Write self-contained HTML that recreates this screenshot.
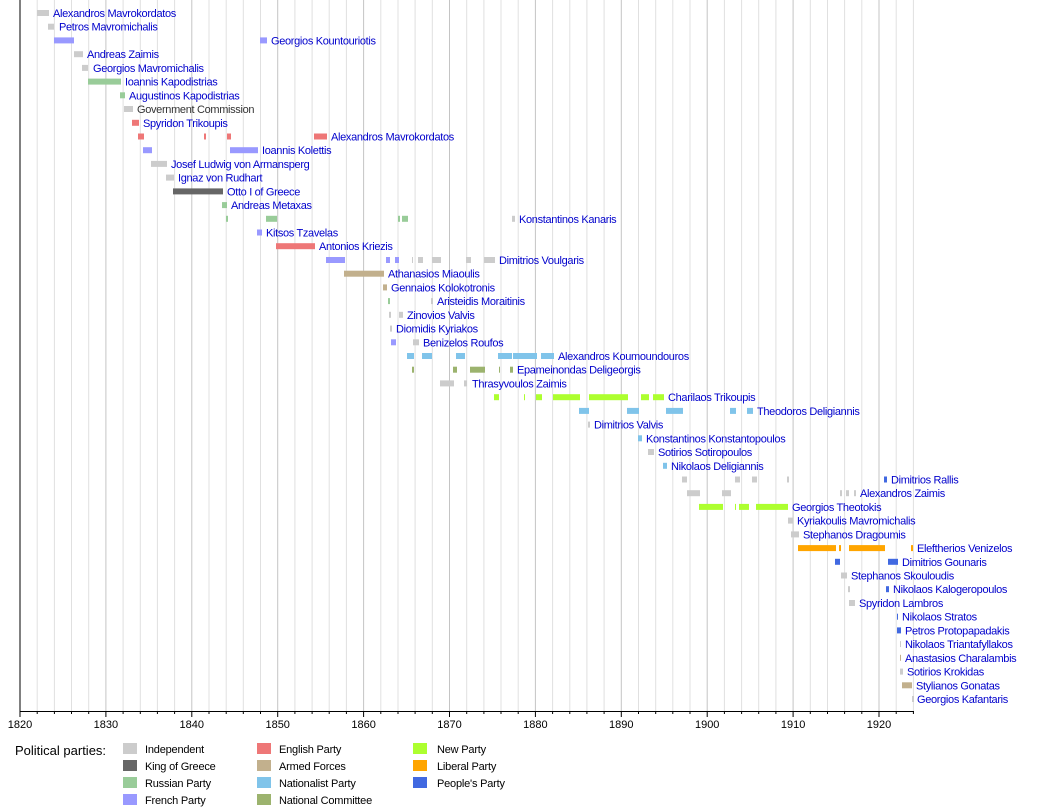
<!DOCTYPE html>
<html><head><meta charset="utf-8"><style>
body{margin:0;background:#fff;}
svg{display:block;font-family:"Liberation Sans",sans-serif;}
.l{font-size:11px;fill:#0000cc;letter-spacing:-0.33px;}
.g{stroke:#e0e0e0;stroke-width:1;}
.G{stroke:#c4c4c4;stroke-width:1;}
.lg{font-size:11px;fill:#000;letter-spacing:-0.2px;}
</style></head><body>
<svg width="1050" height="810" viewBox="0 0 1050 810">
<g>
<line class="g" x1="37.2" y1="0" x2="37.2" y2="711"/><line class="g" x1="54.4" y1="0" x2="54.4" y2="711"/><line class="g" x1="71.5" y1="0" x2="71.5" y2="711"/><line class="g" x1="88.7" y1="0" x2="88.7" y2="711"/><line class="G" x1="105.9" y1="0" x2="105.9" y2="711"/>
<line class="g" x1="123.1" y1="0" x2="123.1" y2="711"/><line class="g" x1="140.3" y1="0" x2="140.3" y2="711"/><line class="g" x1="157.4" y1="0" x2="157.4" y2="711"/><line class="g" x1="174.6" y1="0" x2="174.6" y2="711"/><line class="G" x1="191.8" y1="0" x2="191.8" y2="711"/>
<line class="g" x1="209" y1="0" x2="209" y2="711"/><line class="g" x1="226.2" y1="0" x2="226.2" y2="711"/><line class="g" x1="243.3" y1="0" x2="243.3" y2="711"/><line class="g" x1="260.5" y1="0" x2="260.5" y2="711"/><line class="G" x1="277.7" y1="0" x2="277.7" y2="711"/>
<line class="g" x1="294.9" y1="0" x2="294.9" y2="711"/><line class="g" x1="312.1" y1="0" x2="312.1" y2="711"/><line class="g" x1="329.2" y1="0" x2="329.2" y2="711"/><line class="g" x1="346.4" y1="0" x2="346.4" y2="711"/><line class="G" x1="363.6" y1="0" x2="363.6" y2="711"/>
<line class="g" x1="380.8" y1="0" x2="380.8" y2="711"/><line class="g" x1="398" y1="0" x2="398" y2="711"/><line class="g" x1="415.1" y1="0" x2="415.1" y2="711"/><line class="g" x1="432.3" y1="0" x2="432.3" y2="711"/><line class="G" x1="449.5" y1="0" x2="449.5" y2="711"/>
<line class="g" x1="466.7" y1="0" x2="466.7" y2="711"/><line class="g" x1="483.9" y1="0" x2="483.9" y2="711"/><line class="g" x1="501" y1="0" x2="501" y2="711"/><line class="g" x1="518.2" y1="0" x2="518.2" y2="711"/><line class="G" x1="535.4" y1="0" x2="535.4" y2="711"/>
<line class="g" x1="552.6" y1="0" x2="552.6" y2="711"/><line class="g" x1="569.8" y1="0" x2="569.8" y2="711"/><line class="g" x1="586.9" y1="0" x2="586.9" y2="711"/><line class="g" x1="604.1" y1="0" x2="604.1" y2="711"/><line class="G" x1="621.3" y1="0" x2="621.3" y2="711"/>
<line class="g" x1="638.5" y1="0" x2="638.5" y2="711"/><line class="g" x1="655.7" y1="0" x2="655.7" y2="711"/><line class="g" x1="672.8" y1="0" x2="672.8" y2="711"/><line class="g" x1="690" y1="0" x2="690" y2="711"/><line class="G" x1="707.2" y1="0" x2="707.2" y2="711"/>
<line class="g" x1="724.4" y1="0" x2="724.4" y2="711"/><line class="g" x1="741.6" y1="0" x2="741.6" y2="711"/><line class="g" x1="758.7" y1="0" x2="758.7" y2="711"/><line class="g" x1="775.9" y1="0" x2="775.9" y2="711"/><line class="G" x1="793.1" y1="0" x2="793.1" y2="711"/>
<line class="g" x1="810.3" y1="0" x2="810.3" y2="711"/><line class="g" x1="827.5" y1="0" x2="827.5" y2="711"/><line class="g" x1="844.6" y1="0" x2="844.6" y2="711"/><line class="g" x1="861.8" y1="0" x2="861.8" y2="711"/><line class="G" x1="879" y1="0" x2="879" y2="711"/>
<line class="g" x1="896.2" y1="0" x2="896.2" y2="711"/><line class="g" x1="913.4" y1="0" x2="913.4" y2="711"/>
</g>
<g>
<rect x="37" y="10" width="12" height="6" fill="#cccccc"/>
<rect x="48" y="23.7" width="6" height="6" fill="#cccccc"/>
<rect x="54" y="37.4" width="20" height="6" fill="#9999ff"/><rect x="260" y="37.4" width="7" height="6" fill="#9999ff"/>
<rect x="74" y="51.2" width="9" height="6" fill="#cccccc"/>
<rect x="82" y="64.9" width="6" height="6" fill="#cccccc"/>
<rect x="88" y="78.6" width="33" height="6" fill="#99cc99"/>
<rect x="120" y="92.3" width="5" height="6" fill="#99cc99"/>
<rect x="124" y="106" width="9" height="6" fill="#cccccc"/>
<rect x="132" y="119.8" width="7" height="6" fill="#ee7777"/>
<rect x="138" y="133.5" width="6" height="6" fill="#ee7777"/><rect x="204" y="133.5" width="2" height="6" fill="#ee7777"/><rect x="227" y="133.5" width="4" height="6" fill="#ee7777"/><rect x="314" y="133.5" width="13" height="6" fill="#ee7777"/>
<rect x="143" y="147.2" width="9" height="6" fill="#9999ff"/><rect x="230" y="147.2" width="28" height="6" fill="#9999ff"/>
<rect x="151" y="160.9" width="16" height="6" fill="#cccccc"/>
<rect x="166" y="174.6" width="8" height="6" fill="#cccccc"/>
<rect x="173" y="188.4" width="50" height="6" fill="#666666"/>
<rect x="222" y="202.1" width="5" height="6" fill="#99cc99"/>
<rect x="226" y="215.8" width="2" height="6" fill="#99cc99"/><rect x="266" y="215.8" width="11" height="6" fill="#99cc99"/><rect x="398" y="215.8" width="2" height="6" fill="#99cc99"/><rect x="402" y="215.8" width="6" height="6" fill="#99cc99"/><rect x="512" y="215.8" width="3" height="6" fill="#cccccc"/>
<rect x="257" y="229.5" width="5" height="6" fill="#9999ff"/>
<rect x="276" y="243.2" width="39" height="6" fill="#ee7777"/>
<rect x="326" y="257" width="19" height="6" fill="#9999ff"/><rect x="386" y="257" width="4" height="6" fill="#9999ff"/><rect x="395" y="257" width="4" height="6" fill="#9999ff"/><rect x="412" y="257" width="1" height="6" fill="#cccccc"/><rect x="418" y="257" width="5" height="6" fill="#cccccc"/><rect x="432" y="257" width="9" height="6" fill="#cccccc"/><rect x="466" y="257" width="5" height="6" fill="#cccccc"/><rect x="484" y="257" width="11" height="6" fill="#cccccc"/>
<rect x="344" y="270.7" width="40" height="6" fill="#c2b08d"/>
<rect x="383" y="284.4" width="4" height="6" fill="#c2b08d"/>
<rect x="388" y="298.1" width="2" height="6" fill="#99cc99"/><rect x="431" y="298.1" width="2" height="6" fill="#cccccc"/>
<rect x="389" y="311.8" width="2" height="6" fill="#cccccc"/><rect x="399" y="311.8" width="4" height="6" fill="#cccccc"/>
<rect x="390" y="325.6" width="2" height="6" fill="#cccccc"/>
<rect x="391" y="339.3" width="5" height="6" fill="#9999ff"/><rect x="413" y="339.3" width="6" height="6" fill="#cccccc"/>
<rect x="407" y="353" width="7" height="6" fill="#80c4ea"/><rect x="422" y="353" width="10" height="6" fill="#80c4ea"/><rect x="456" y="353" width="9" height="6" fill="#80c4ea"/><rect x="498" y="353" width="14" height="6" fill="#80c4ea"/><rect x="513" y="353" width="24" height="6" fill="#80c4ea"/><rect x="541" y="353" width="13" height="6" fill="#80c4ea"/>
<rect x="412" y="366.7" width="2" height="6" fill="#9cb36e"/><rect x="453" y="366.7" width="4" height="6" fill="#9cb36e"/><rect x="470" y="366.7" width="15" height="6" fill="#9cb36e"/><rect x="499" y="366.7" width="1" height="6" fill="#9cb36e"/><rect x="510" y="366.7" width="3" height="6" fill="#9cb36e"/>
<rect x="440" y="380.4" width="14" height="6" fill="#cccccc"/><rect x="464" y="380.4" width="3" height="6" fill="#cccccc"/>
<rect x="494" y="394.2" width="5" height="6" fill="#adff2f"/><rect x="524" y="394.2" width="1" height="6" fill="#adff2f"/><rect x="536" y="394.2" width="6" height="6" fill="#adff2f"/><rect x="553" y="394.2" width="27" height="6" fill="#adff2f"/><rect x="589" y="394.2" width="39" height="6" fill="#adff2f"/><rect x="641" y="394.2" width="8" height="6" fill="#adff2f"/><rect x="653" y="394.2" width="11" height="6" fill="#adff2f"/>
<rect x="579" y="407.9" width="10" height="6" fill="#80c4ea"/><rect x="627" y="407.9" width="12" height="6" fill="#80c4ea"/><rect x="666" y="407.9" width="17" height="6" fill="#80c4ea"/><rect x="730" y="407.9" width="6" height="6" fill="#80c4ea"/><rect x="747" y="407.9" width="6" height="6" fill="#80c4ea"/>
<rect x="588" y="421.6" width="2" height="6" fill="#cccccc"/>
<rect x="638" y="435.3" width="4" height="6" fill="#80c4ea"/>
<rect x="648" y="449" width="6" height="6" fill="#cccccc"/>
<rect x="663" y="462.8" width="4" height="6" fill="#80c4ea"/>
<rect x="682" y="476.5" width="5" height="6" fill="#cccccc"/><rect x="735" y="476.5" width="5" height="6" fill="#cccccc"/><rect x="752" y="476.5" width="5" height="6" fill="#cccccc"/><rect x="787" y="476.5" width="2" height="6" fill="#cccccc"/><rect x="884" y="476.5" width="3" height="6" fill="#4169e1"/>
<rect x="687" y="490.2" width="13" height="6" fill="#cccccc"/><rect x="722" y="490.2" width="9" height="6" fill="#cccccc"/><rect x="840" y="490.2" width="2" height="6" fill="#cccccc"/><rect x="846" y="490.2" width="3" height="6" fill="#cccccc"/><rect x="854" y="490.2" width="2" height="6" fill="#cccccc"/>
<rect x="699" y="503.9" width="24" height="6" fill="#adff2f"/><rect x="735" y="503.9" width="1" height="6" fill="#adff2f"/><rect x="739" y="503.9" width="10" height="6" fill="#adff2f"/><rect x="756" y="503.9" width="32" height="6" fill="#adff2f"/>
<rect x="788" y="517.6" width="5" height="6" fill="#cccccc"/>
<rect x="791" y="531.4" width="8" height="6" fill="#cccccc"/>
<rect x="798" y="545.1" width="38" height="6" fill="#ffa500"/><rect x="839" y="545.1" width="2" height="6" fill="#ffa500"/><rect x="849" y="545.1" width="36" height="6" fill="#ffa500"/><rect x="911" y="545.1" width="2" height="6" fill="#ffa500"/>
<rect x="835" y="558.8" width="5" height="6" fill="#4169e1"/><rect x="888" y="558.8" width="10" height="6" fill="#4169e1"/>
<rect x="841" y="572.5" width="6" height="6" fill="#cccccc"/>
<rect x="848" y="586.2" width="2" height="6" fill="#cccccc"/><rect x="886" y="586.2" width="3" height="6" fill="#4169e1"/>
<rect x="849" y="600" width="6" height="6" fill="#cccccc"/>
<rect x="897" y="613.7" width="1" height="6" fill="#4169e1"/>
<rect x="897" y="627.4" width="4" height="6" fill="#4169e1"/>
<rect x="900" y="641.1" width="1" height="6" fill="#cccccc"/>
<rect x="900" y="654.8" width="1" height="6" fill="#c2b08d"/>
<rect x="900" y="668.6" width="3" height="6" fill="#cccccc"/>
<rect x="902" y="682.3" width="10" height="6" fill="#c2b08d"/>
<rect x="912" y="696" width="2" height="6" fill="#cccccc"/>
</g>
<g class="l">
<text x="53" y="17">Alexandros Mavrokordatos</text>
<text x="59" y="30.7">Petros Mavromichalis</text>
<text x="271" y="44.4">Georgios Kountouriotis</text>
<text x="87" y="58.2">Andreas Zaimis</text>
<text x="93" y="71.9">Georgios Mavromichalis</text>
<text x="125" y="85.6">Ioannis Kapodistrias</text>
<text x="129" y="99.3">Augustinos Kapodistrias</text>
<text x="137" y="113" style="fill:#333">Government Commission</text>
<text x="143" y="126.8">Spyridon Trikoupis</text>
<text x="331" y="140.5">Alexandros Mavrokordatos</text>
<text x="262" y="154.2">Ioannis Kolettis</text>
<text x="171" y="167.9">Josef Ludwig von Armansperg</text>
<text x="178" y="181.6">Ignaz von Rudhart</text>
<text x="227" y="195.4">Otto I of Greece</text>
<text x="231" y="209.1">Andreas Metaxas</text>
<text x="519" y="222.8">Konstantinos Kanaris</text>
<text x="266" y="236.5">Kitsos Tzavelas</text>
<text x="319" y="250.2">Antonios Kriezis</text>
<text x="499" y="264">Dimitrios Voulgaris</text>
<text x="388" y="277.7">Athanasios Miaoulis</text>
<text x="391" y="291.4">Gennaios Kolokotronis</text>
<text x="437" y="305.1">Aristeidis Moraitinis</text>
<text x="407" y="318.8">Zinovios Valvis</text>
<text x="396" y="332.6">Diomidis Kyriakos</text>
<text x="423" y="346.3">Benizelos Roufos</text>
<text x="558" y="360">Alexandros Koumoundouros</text>
<text x="517" y="373.7">Epameinondas Deligeorgis</text>
<text x="472" y="387.4">Thrasyvoulos Zaimis</text>
<text x="668" y="401.2">Charilaos Trikoupis</text>
<text x="757" y="414.9">Theodoros Deligiannis</text>
<text x="594" y="428.6">Dimitrios Valvis</text>
<text x="646" y="442.3">Konstantinos Konstantopoulos</text>
<text x="658" y="456">Sotirios Sotiropoulos</text>
<text x="671" y="469.8">Nikolaos Deligiannis</text>
<text x="891" y="483.5">Dimitrios Rallis</text>
<text x="860" y="497.2">Alexandros Zaimis</text>
<text x="792" y="510.9">Georgios Theotokis</text>
<text x="797" y="524.6">Kyriakoulis Mavromichalis</text>
<text x="803" y="538.4">Stephanos Dragoumis</text>
<text x="917" y="552.1">Eleftherios Venizelos</text>
<text x="902" y="565.8">Dimitrios Gounaris</text>
<text x="851" y="579.5">Stephanos Skouloudis</text>
<text x="893" y="593.2">Nikolaos Kalogeropoulos</text>
<text x="859" y="607">Spyridon Lambros</text>
<text x="902" y="620.7">Nikolaos Stratos</text>
<text x="905" y="634.4">Petros Protopapadakis</text>
<text x="905" y="648.1">Nikolaos Triantafyllakos</text>
<text x="905" y="661.8">Anastasios Charalambis</text>
<text x="907" y="675.6">Sotirios Krokidas</text>
<text x="916" y="689.3">Stylianos Gonatas</text>
<text x="917" y="703">Georgios Kafantaris</text>
</g>
<line x1="20" y1="0" x2="20" y2="711.5" stroke="#000"/>
<line x1="20" y1="711.5" x2="914" y2="711.5" stroke="#000"/>
<g stroke="#000">
<line x1="20" y1="711" x2="20" y2="717"/><line x1="105.9" y1="711" x2="105.9" y2="717"/><line x1="191.8" y1="711" x2="191.8" y2="717"/><line x1="277.7" y1="711" x2="277.7" y2="717"/><line x1="363.6" y1="711" x2="363.6" y2="717"/><line x1="449.5" y1="711" x2="449.5" y2="717"/><line x1="535.4" y1="711" x2="535.4" y2="717"/><line x1="621.3" y1="711" x2="621.3" y2="717"/><line x1="707.2" y1="711" x2="707.2" y2="717"/><line x1="793.1" y1="711" x2="793.1" y2="717"/><line x1="879" y1="711" x2="879" y2="717"/>
<line x1="37.2" y1="711" x2="37.2" y2="714"/><line x1="54.4" y1="711" x2="54.4" y2="714"/><line x1="71.5" y1="711" x2="71.5" y2="714"/><line x1="88.7" y1="711" x2="88.7" y2="714"/>
<line x1="123.1" y1="711" x2="123.1" y2="714"/><line x1="140.3" y1="711" x2="140.3" y2="714"/><line x1="157.4" y1="711" x2="157.4" y2="714"/><line x1="174.6" y1="711" x2="174.6" y2="714"/>
<line x1="209" y1="711" x2="209" y2="714"/><line x1="226.2" y1="711" x2="226.2" y2="714"/><line x1="243.3" y1="711" x2="243.3" y2="714"/><line x1="260.5" y1="711" x2="260.5" y2="714"/>
<line x1="294.9" y1="711" x2="294.9" y2="714"/><line x1="312.1" y1="711" x2="312.1" y2="714"/><line x1="329.2" y1="711" x2="329.2" y2="714"/><line x1="346.4" y1="711" x2="346.4" y2="714"/>
<line x1="380.8" y1="711" x2="380.8" y2="714"/><line x1="398" y1="711" x2="398" y2="714"/><line x1="415.1" y1="711" x2="415.1" y2="714"/><line x1="432.3" y1="711" x2="432.3" y2="714"/>
<line x1="466.7" y1="711" x2="466.7" y2="714"/><line x1="483.9" y1="711" x2="483.9" y2="714"/><line x1="501" y1="711" x2="501" y2="714"/><line x1="518.2" y1="711" x2="518.2" y2="714"/>
<line x1="552.6" y1="711" x2="552.6" y2="714"/><line x1="569.8" y1="711" x2="569.8" y2="714"/><line x1="586.9" y1="711" x2="586.9" y2="714"/><line x1="604.1" y1="711" x2="604.1" y2="714"/>
<line x1="638.5" y1="711" x2="638.5" y2="714"/><line x1="655.7" y1="711" x2="655.7" y2="714"/><line x1="672.8" y1="711" x2="672.8" y2="714"/><line x1="690" y1="711" x2="690" y2="714"/>
<line x1="724.4" y1="711" x2="724.4" y2="714"/><line x1="741.6" y1="711" x2="741.6" y2="714"/><line x1="758.7" y1="711" x2="758.7" y2="714"/><line x1="775.9" y1="711" x2="775.9" y2="714"/>
<line x1="810.3" y1="711" x2="810.3" y2="714"/><line x1="827.5" y1="711" x2="827.5" y2="714"/><line x1="844.6" y1="711" x2="844.6" y2="714"/><line x1="861.8" y1="711" x2="861.8" y2="714"/>
<line x1="896.2" y1="711" x2="896.2" y2="714"/><line x1="913.4" y1="711" x2="913.4" y2="714"/>
</g>
<g font-size="11" fill="#000" text-anchor="middle">
<text x="20" y="728">1820</text><text x="105.9" y="728">1830</text><text x="191.8" y="728">1840</text><text x="277.7" y="728">1850</text><text x="363.6" y="728">1860</text><text x="449.5" y="728">1870</text><text x="535.4" y="728">1880</text><text x="621.3" y="728">1890</text><text x="707.2" y="728">1900</text><text x="793.1" y="728">1910</text><text x="879" y="728">1920</text>
</g>
<text x="15" y="755" font-size="13" fill="#000">Political parties:</text>
<g>
<rect x="123" y="743" width="14" height="11" fill="#cccccc"/><text class="lg" x="145" y="753">Independent</text>
<rect x="123" y="760" width="14" height="11" fill="#666666"/><text class="lg" x="145" y="770">King of Greece</text>
<rect x="123" y="777" width="14" height="11" fill="#99cc99"/><text class="lg" x="145" y="787">Russian Party</text>
<rect x="123" y="794" width="14" height="11" fill="#9999ff"/><text class="lg" x="145" y="804">French Party</text>
<rect x="257" y="743" width="14" height="11" fill="#ee7777"/><text class="lg" x="279" y="753">English Party</text>
<rect x="257" y="760" width="14" height="11" fill="#c2b08d"/><text class="lg" x="279" y="770">Armed Forces</text>
<rect x="257" y="777" width="14" height="11" fill="#80c4ea"/><text class="lg" x="279" y="787">Nationalist Party</text>
<rect x="257" y="794" width="14" height="11" fill="#9cb36e"/><text class="lg" x="279" y="804">National Committee</text>
<rect x="413" y="743" width="14" height="11" fill="#adff2f"/><text class="lg" x="437" y="753">New Party</text>
<rect x="413" y="760" width="14" height="11" fill="#ffa500"/><text class="lg" x="437" y="770">Liberal Party</text>
<rect x="413" y="777" width="14" height="11" fill="#4169e1"/><text class="lg" x="437" y="787">People's Party</text>
</g>
</svg>
</body></html>
